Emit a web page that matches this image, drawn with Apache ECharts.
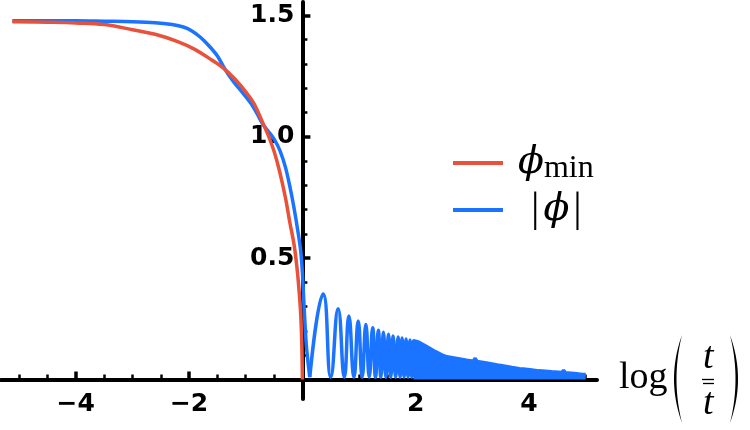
<!DOCTYPE html>
<html>
<head>
<meta charset="utf-8">
<script src="https://cdn.jsdelivr.net/npm/echarts@6/dist/echarts.min.js"></script>
<style>
  html, body { margin: 0; padding: 0; background: #fff; }
  #chart { width: 750px; height: 430px; }
</style>
</head>
<body>
<div id="chart"></div>
<script>
// phi_min (red), x = log(t / tbar)
var phiMinX = [-5.12, -4.5, -4.0, -3.5, -3.0, -2.6, -2.2, -1.9, -1.6, -1.4, -1.2, -1.0, -0.85, -0.7, -0.6, -0.5, -0.4, -0.3, -0.22, -0.15, -0.1, -0.06, -0.03, -0.012, 0];
var phiMinY = [1.474, 1.472, 1.469, 1.462, 1.441, 1.422, 1.392, 1.36, 1.316, 1.284, 1.24, 1.185, 1.135, 1.058, 1.005, 0.94, 0.855, 0.75, 0.645, 0.56, 0.47, 0.37, 0.27, 0.16, 0];

// |phi| (blue), smooth part down to its first zero
var absPhiX = [-5.12, -4.5, -4.0, -3.5, -3.0, -2.6, -2.3, -2.1, -1.95, -1.8, -1.65, -1.5, -1.4, -1.3, -1.2, -1.05, -0.9, -0.8, -0.7, -0.6, -0.5, -0.4, -0.3, -0.22, -0.15, -0.074, -0.03, 0.0, 0.03, 0.07, 0.13];
var absPhiY = [1.478, 1.478, 1.478, 1.476, 1.474, 1.470, 1.462, 1.452, 1.436, 1.410, 1.375, 1.333, 1.292, 1.254, 1.222, 1.180, 1.135, 1.095, 1.052, 1.022, 0.99, 0.945, 0.875, 0.794, 0.71, 0.603, 0.53, 0.44, 0.30, 0.14, 0.01];

// |phi| oscillations that can still be resolved: zeros and peaks
var oscX = [0.13, 0.367, 0.50, 0.63, 0.74, 0.82, 0.91, 0.985, 1.055, 1.12, 1.18, 1.24, 1.29, 1.34, 1.385, 1.43, 1.475, 1.52, 1.56, 1.60, 1.645, 1.69, 1.725, 1.76, 1.795, 1.83, 1.865, 1.90, 1.93, 1.96, 1.99];
var oscY = [0.01, 0.352, 0.01, 0.292, 0.01, 0.262, 0.01, 0.241, 0.01, 0.227, 0.01, 0.214, 0.01, 0.203, 0.01, 0.195, 0.01, 0.187, 0.01, 0.180, 0.01, 0.175, 0.01, 0.171, 0.01, 0.167, 0.01, 0.163, 0.01, 0.160, 0.01];

// |phi| where the oscillations are too dense to resolve: upper envelope of the solid band
var bandX = [1.96, 2.05, 2.2, 2.35, 2.45, 2.55, 2.7, 2.9, 3.02, 3.05, 3.08, 3.25, 3.44, 3.47, 3.5, 3.7, 3.83, 3.86, 3.9, 4.05, 4.17, 4.2, 4.23, 4.4, 4.58, 4.61, 4.64, 4.8, 4.88, 4.9, 4.93, 5.0];
var bandY = [0.160, 0.155, 0.135, 0.115, 0.103, 0.094, 0.088, 0.080, 0.076, 0.088, 0.075, 0.068, 0.060, 0.066, 0.058, 0.050, 0.045, 0.053, 0.044, 0.040, 0.036, 0.043, 0.035, 0.032, 0.029, 0.038, 0.028, 0.025, 0.023, 0.030, 0.022, 0.021];

// ticks
var xMajor = [-4, -2, 2, 4];
var xMinor = [-5, -4.5, -3.5, -3, -2.5, -1.5, -1, -0.5, 0.5, 1, 1.5, 2.5, 3, 3.5, 4.5, 5];
var yMajor = [0.5, 1.0, 1.5];
var yMinor = [0.1, 0.2, 0.3, 0.4, 0.6, 0.7, 0.8, 0.9, 1.1, 1.2, 1.3, 1.4];

var RED = "#e8513a";
var BLUE = "#1b74ff";

function pairs(xs, ys) {
  var out = [];
  for (var i = 0; i < xs.length; i++) out.push([xs[i], ys[i]]);
  return out;
}

// big parenthesis as a thin crescent (outer and inner quadratic curve)
function paren(x, y1, y2, bulge, thick) {
  var pts = [];
  var n = 24;
  var ym = (y1 + y2) / 2;
  for (var i = 0; i <= n; i++) {
    var t = i / n;
    pts.push([(1 - t) * (1 - t) * x + 2 * t * (1 - t) * (x + bulge) + t * t * x,
      (1 - t) * (1 - t) * y1 + 2 * t * (1 - t) * ym + t * t * y2]);
  }
  var b2 = bulge > 0 ? bulge - thick : bulge + thick;
  for (var j = n; j >= 0; j--) {
    var s = j / n;
    pts.push([(1 - s) * (1 - s) * x + 2 * s * (1 - s) * (x + b2) + s * s * x,
      (1 - s) * (1 - s) * y1 + 2 * s * (1 - s) * ym + s * s * y2]);
  }
  return pts;
}

var labelFont = {
  color: "#000",
  fontFamily: "DejaVu Sans",
  fontWeight: "bold",
  fontSize: 25
};

var X0 = 302.4; // pixel of x = 0 in the main grid (left 1, 596 wide, -5.32..5.2)

var myChart = echarts.init(document.getElementById("chart"));
var option = {
  animation: false,
  grid: [
    { left: 1, right: 153, top: 2, bottom: 50.4 },
    { left: X0, width: 100, top: 2, bottom: 31 }
  ],
  legend: {
    orient: "vertical",
    left: 453,
    top: 144,
    padding: 0,
    itemGap: 4,
    itemWidth: 50,
    itemHeight: 4,
    icon: "rect",
    data: ["ϕmin", "|ϕ|"],
    formatter: function(name) {
      if (name === "ϕmin") return "{sp1| }{phi|ϕ}{sub|min}";
      return "{sp2| }{bar||}{phi|ϕ}{bar||}";
    },
    textStyle: {
      color: "#000",
      rich: {
        sp1: { width: 10, lineHeight: 44 },
        sp2: { width: 19, lineHeight: 44 },
        phi: { fontFamily: "DejaVu Serif", fontStyle: "italic", fontSize: 38, lineHeight: 44, color: "#000" },
        sub: { fontFamily: "Liberation Serif", fontSize: 32, lineHeight: 30, verticalAlign: "bottom", color: "#000" },
        bar: { fontFamily: "Liberation Serif", fontSize: 42, lineHeight: 44, padding: [0, 4, 0, 4], color: "#000" }
      }
    }
  },
  xAxis: [
    {
      type: "value",
      gridIndex: 0,
      min: -5.32,
      max: 5.2,
      position: "bottom",
      axisLine: { onZero: true, lineStyle: { color: "#000", width: 4 } },
      axisTick: { show: true, inside: true, length: 8, customValues: xMajor, lineStyle: { color: "#000", width: 3.5 } },
      axisLabel: Object.assign({
        customValues: xMajor,
        margin: 12,
        formatter: function(v) { return v < 0 ? "\u2212" + (-v) : String(v); }
      }, labelFont),
      splitLine: { show: false }
    },
    {
      type: "value",
      gridIndex: 0,
      min: -5.32,
      max: 5.2,
      position: "bottom",
      axisLine: { show: false, onZero: true, onZeroAxisIndex: 0 },
      axisTick: { show: true, inside: true, length: 5, customValues: xMinor, lineStyle: { color: "#000", width: 2.5 } },
      axisLabel: { show: false },
      splitLine: { show: false }
    },
    {
      type: "value",
      gridIndex: 1,
      min: 0,
      max: 1,
      show: false
    }
  ],
  yAxis: [
    {
      type: "value",
      gridIndex: 0,
      min: 0,
      max: 1.555,
      show: false
    },
    {
      type: "value",
      gridIndex: 1,
      min: -0.08,
      max: 1.555,
      position: "left",
      axisLine: { onZero: false, lineStyle: { color: "#000", width: 4 } },
      axisTick: { show: true, inside: true, length: 8, customValues: yMajor, lineStyle: { color: "#000", width: 3.5 } },
      axisLabel: Object.assign({
        customValues: yMajor,
        margin: 8,
        padding: [6, 0, 0, 0],
        formatter: function(v) { return v.toFixed(1); }
      }, labelFont),
      splitLine: { show: false }
    },
    {
      type: "value",
      gridIndex: 1,
      min: -0.08,
      max: 1.555,
      position: "left",
      axisLine: { show: false, onZero: false },
      axisTick: { show: true, inside: true, length: 5, customValues: yMinor, lineStyle: { color: "#000", width: 2.5 } },
      axisLabel: { show: false },
      splitLine: { show: false }
    }
  ],
  series: [
    {
      name: "|ϕ|",
      type: "line",
      data: pairs(absPhiX, absPhiY),
      smooth: 0.3,
      showSymbol: false,
      lineStyle: { color: BLUE, width: 3.5 },
      itemStyle: { color: BLUE }
    },
    {
      name: "|ϕ|",
      type: "line",
      data: pairs(oscX, oscY),
      smooth: 0.5,
      showSymbol: false,
      lineStyle: { color: BLUE, width: 3.5 },
      itemStyle: { color: BLUE }
    },
    {
      name: "|ϕ|",
      type: "line",
      data: pairs(bandX, bandY),
      showSymbol: false,
      lineStyle: { color: BLUE, width: 3.5 },
      areaStyle: { color: BLUE, opacity: 1 },
      itemStyle: { color: BLUE }
    },
    {
      name: "ϕmin",
      type: "line",
      data: pairs(phiMinX, phiMinY),
      smooth: 0.4,
      showSymbol: false,
      lineStyle: { color: RED, width: 3.5 },
      itemStyle: { color: RED }
    }
  ],
  graphic: [
    // axis name: log( t / tbar )
    { type: "text", left: 619, top: 359, style: { text: "log", font: "38px 'Liberation Serif'", fill: "#000" } },
    { type: "polygon", shape: { points: paren(682, 335, 423, -16, 5) }, style: { fill: "#000" } },
    { type: "polygon", shape: { points: paren(730, 335, 423, 16, 5) }, style: { fill: "#000" } },
    { type: "text", left: 703, top: 339, style: { text: "t", font: "italic 38px 'Liberation Serif'", fill: "#000" } },
    { type: "line", shape: { x1: 702, y1: 379.5, x2: 714, y2: 379.5 }, style: { stroke: "#000", lineWidth: 1.3 } },
    { type: "line", shape: { x1: 703, y1: 383.5, x2: 714, y2: 383.5 }, style: { stroke: "#000", lineWidth: 1.3 } },
    { type: "text", left: 703, top: 385, style: { text: "t", font: "italic 38px 'Liberation Serif'", fill: "#000" } }
  ]
};
myChart.setOption(option);
window.addEventListener("resize", function() {
  myChart.resize();
});
</script>
</body>
</html>
